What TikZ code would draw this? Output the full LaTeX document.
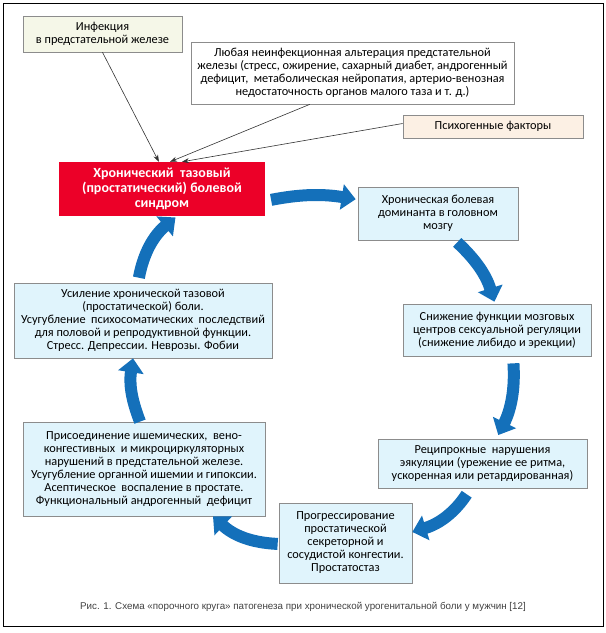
\documentclass[tikz,border=0pt]{standalone}
\usepackage{fontspec}
\setmainfont{Carlito}
\newfontfamily\captionfont{Liberation Sans}
\usetikzlibrary{arrows.meta,calc,positioning}
\definecolor{boxblue}{RGB}{224,244,252}
\definecolor{arrowblue}{RGB}{20,112,186}
\definecolor{painred}{RGB}{236,0,40}
\definecolor{infectfill}{RGB}{245,247,232}
\definecolor{psychfill}{RGB}{252,240,228}
\tikzstyle{factor box}=[draw=black!45,line width=0.7pt,align=center,inner sep=0pt,font=\fontsize{12.3}{13}\selectfont]
\tikzstyle{cycle box}=[factor box,fill=boxblue]
\tikzstyle{pain box}=[fill=painred,text=white,align=center,inner sep=0pt,font=\bfseries\fontsize{14}{15}\selectfont]
\tikzstyle{factor arrow}=[-{Stealth[length=7pt,width=5pt]},draw=black!80,line width=0.6pt]
\tikzstyle{cycle arrow}=[-{Triangle[length=14pt,width=25pt]},draw=arrowblue,line width=12pt]

\begin{document}
\begin{tikzpicture}[x=1pt,y=1pt]
  \useasboundingbox (0,0) rectangle (606,633);
  \draw[line width=1pt] (3,6) rectangle (603,629);

  \node[factor box, fill=infectfill, minimum width=159pt, minimum height=36pt] (infect) at (102.5,599) {Инфекция\\в предстательной железе};
  \node[factor box, fill=white, minimum width=323pt, minimum height=62pt] (any) at (352.5,560) {Любая неинфекционная альтерация предстательной\\железы (стресс, ожирение, сахарный диабет, андрогенный\\дефицит,\ \ метаболическая нейропатия, артерио-венозная\\недостаточность органов малого таза и т. д.)};
  \node[factor box, fill=psychfill, minimum width=180pt, minimum height=23pt] (psych) at (493,506.5) {Психогенные факторы};

  \node[pain box, minimum width=206pt, minimum height=54pt] (pain) at (162,444) {Хронический\ \ тазовый\\(простатический) болевой\\синдром};

  \draw[factor arrow] (infect.south) -- ($(pain.north west)!0.485!(pain.north east)$);
  \draw[factor arrow] ($(any.south west)!0.368!(any.south east)$) -- ($(pain.north west)!0.539!(pain.north east)$);
  \draw[factor arrow] ([yshift=3pt]psych.west) -- ($(pain.north west)!0.597!(pain.north east)$);

  \node[cycle box, minimum width=160pt, minimum height=53pt] (brain) at (438,419.5) {Хроническая болевая\\доминанта в головном\\мозгу};
  \node[cycle box, minimum width=188pt, minimum height=52pt] (sex) at (497,303) {Снижение функции мозговых\\центров сексуальной регуляции\\(снижение либидо и эрекции)};
  \node[cycle box, minimum width=209pt, minimum height=49pt] (ejac) at (482.5,169.5) {Реципрокные\ \ нарушения\\эякуляции (урежение ее ритма,\\ускоренная или ретардированная)};
  \node[cycle box, minimum width=133pt, minimum height=80pt] (congest) at (345.5,90) {Прогрессирование\\простатической\\секреторной и\\сосудистой конгестии.\\Простатостаз};
  \node[cycle box, minimum width=242pt, minimum height=94pt] (ischem) at (144,164) {Присоединение ишемических,\ \ вено-\\конгестивных\ \ и микроциркуляторных\\нарушений в предстательной железе.\\Усугубление органной ишемии и гипоксии.\\Асептическое\ \ воспаление в простате.\\Функциональный андрогенный\ \ дефицит};
  \node[cycle box, minimum width=258pt, minimum height=75pt] (amplif) at (143,312.5) {Усиление хронической тазовой\\(простатической) боли.\\Усугубление\ \ психосоматических\ \ последствий\\для половой и репродуктивной функции.\\Стресс. Депрессии. Неврозы. Фобии};

  \draw[cycle arrow, shorten <=6pt, shorten >=2pt] ([yshift=-12pt]pain.east) to[bend left=10] ([yshift=14pt]brain.west);
  \draw[cycle arrow, shorten <=3pt, shorten >=2pt] ([xshift=17pt]brain.south) to[bend left=15] ([xshift=-2pt]sex.north);
  \draw[cycle arrow, shorten <=7pt, shorten >=4pt] ([xshift=16pt]sex.south) to[bend left=15] ([xshift=14pt]ejac.north);
  \draw[cycle arrow, shorten <=7pt] ([xshift=-12pt]ejac.south) to[bend left=20] ([yshift=11pt]congest.east);
  \draw[cycle arrow, shorten <=1pt] ([yshift=-1pt]congest.west) to[bend left=20] ([xshift=69pt]ischem.south);
  \draw[cycle arrow] ([xshift=-4pt]ischem.north) to[bend left=15] ([xshift=-10pt]amplif.south);
  \draw[cycle arrow, shorten <=5pt, shorten >=2pt] ([xshift=-5pt]amplif.north) to[bend left=20] ([xshift=15pt]pain.south);

  \node[font=\captionfont\fontsize{9.8}{11}\selectfont, text=black!75] (caption) at (303,26) {Рис. 1. Схема «порочного круга» патогенеза при хронической урогенитальной боли у мужчин [12]};
\end{tikzpicture}
\end{document}
